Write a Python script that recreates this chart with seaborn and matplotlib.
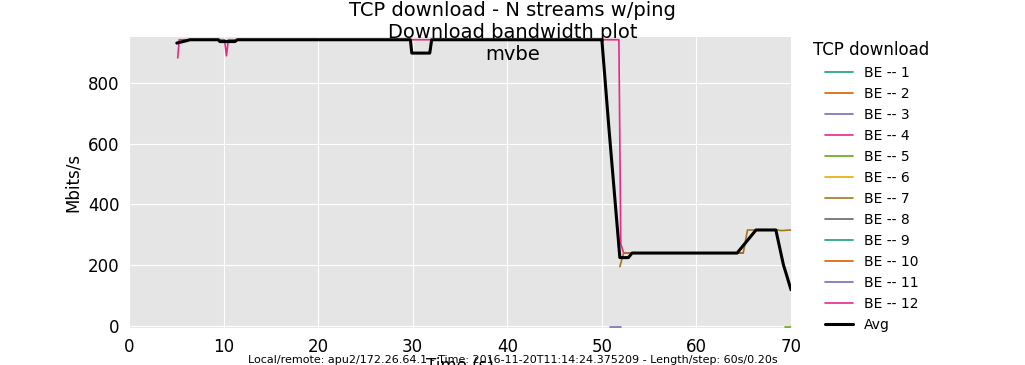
import numpy as np
import matplotlib
matplotlib.use('Agg')
import matplotlib.pyplot as plt
import seaborn as sns

# stream series (time in s, Mbits/s)
be4_t = [5.15, 5.3, 10.1, 10.3, 10.5, 51.8, 52.0, 52.3, 64.95]
be4_v = [883, 943, 943, 890, 943, 943, 270, 240, 240]

be7_t = [51.9, 52.3, 64.95, 65.4, 68.5, 69.0, 70.0]
be7_v = [195, 240, 240, 316, 316, 314, 316]

be3_t = [50.9, 52.0]
be3_v = [-3, -3]

be5_t = [69.4, 70.0]
be5_v = [-3, -3]

avg_t = [5.05, 6.1, 6.45, 9.45, 9.6, 11.2, 11.45, 29.75, 29.9, 31.8, 32.0,
         50.0, 50.75, 51.9, 52.8, 53.2, 64.3, 66.3, 68.4, 69.2, 69.47, 70.0]
avg_v = [932, 940, 943, 943, 937, 937, 943, 943, 899, 899, 943,
         943, 650, 225, 225, 240, 240, 316, 316, 201, 174, 119]

streams = {3: (be3_t, be3_v), 4: (be4_t, be4_v), 5: (be5_t, be5_v), 7: (be7_t, be7_v)}
labels = ['BE -- %d' % i for i in range(1, 13)]

sns.set_style('darkgrid', {'axes.facecolor': '#e5e5e5', 'grid.color': 'white'})
plt.rcParams['font.family'] = ['DejaVu Sans']
for k in ['text.color', 'axes.labelcolor', 'xtick.color', 'ytick.color']:
    plt.rcParams[k] = 'black'
# Dark2 colours, cycled for 12 streams
colors = ['#1b9e77', '#d95f02', '#7570b3', '#e7298a',
          '#66a61e', '#e6ab02', '#a6761d', '#666666']

fig = plt.figure(figsize=(10.25, 3.65), dpi=100)
ax = fig.add_axes([0.1259, 0.1014, 0.6458, 0.7972])

for i, lab in enumerate(labels):
    c = colors[i % 8]
    if i + 1 in streams:
        t, v = streams[i + 1]
        sns.lineplot(x=t, y=v, ax=ax, color=c, linewidth=1.2, label=lab)
    else:
        # stream has no samples in the plotted window, keep legend entry
        ax.plot([], [], color=c, linewidth=1.2, label=lab)
sns.lineplot(x=avg_t, y=avg_v, ax=ax, color='black', linewidth=2.2, label='Avg')

ax.set_xlim(0, 70)
ax.set_ylim(-7, 952)
ax.set_xticks(range(0, 71, 10))
ax.set_yticks(range(0, 801, 200))
ax.tick_params(labelsize=12, length=0, pad=7)
for s in ax.spines.values():
    s.set_visible(False)
ax.set_xlabel('Time (s)', fontsize=12, labelpad=1)
ax.set_ylabel('Mbits/s', fontsize=12)

leg = ax.legend(loc='upper left', bbox_to_anchor=(1.015, 1.028), frameon=False,
                title='TCP download', fontsize=10, title_fontsize=12)

fig.suptitle('TCP download - N streams w/ping\nDownload bandwidth plot\nmvbe',
             fontsize=14, y=0.997, va='top')
fig.text(0.5, 0.0, 'Local/remote: apu2/172.26.64.1 - Time: 2016-11-20T11:14:24.375209 - Length/step: 60s/0.20s',
         ha='center', va='bottom', fontsize=8)

fig.savefig('out.png', dpi=100)
